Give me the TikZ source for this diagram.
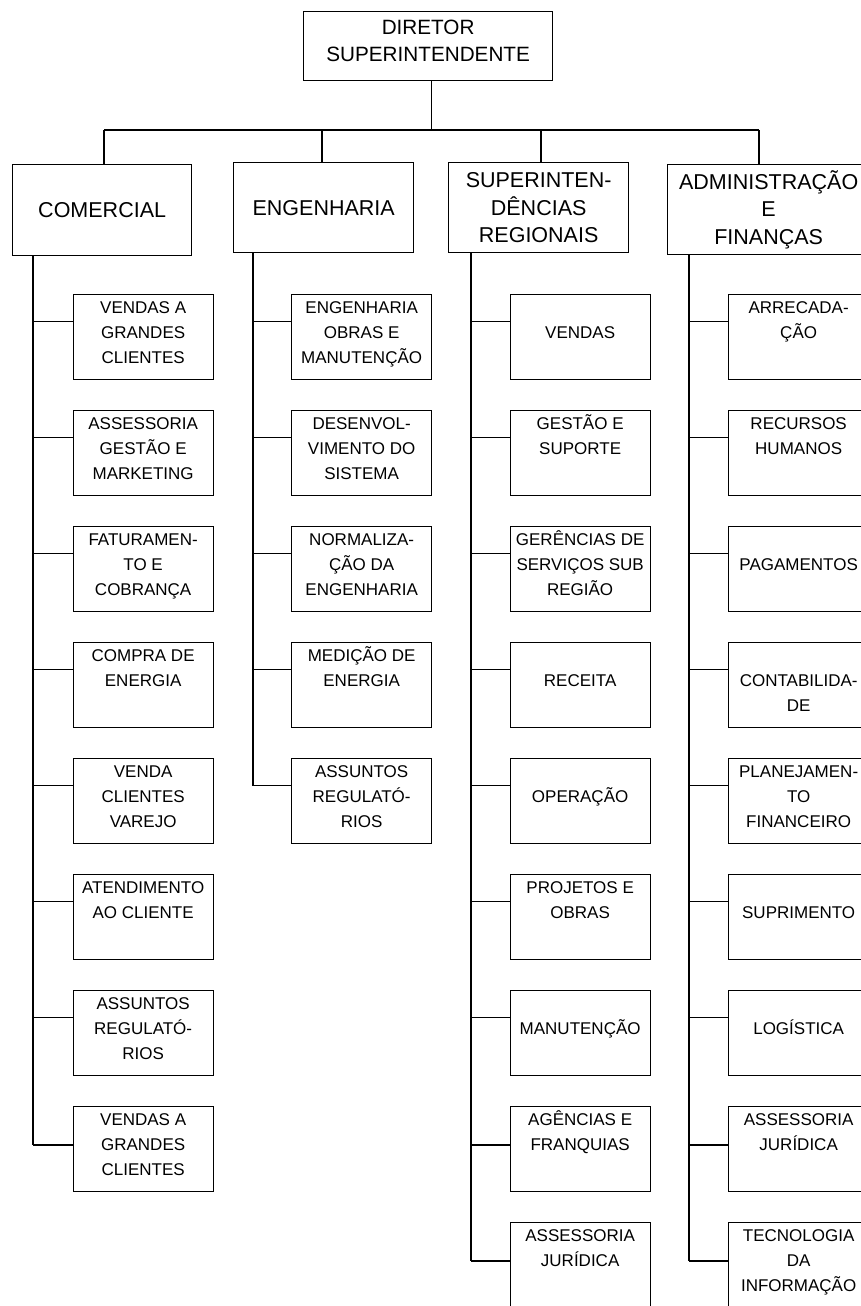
\documentclass[tikz,border=0pt]{standalone}
\usepackage{fontspec}
\setmainfont{Liberation Sans}
% fixed-height strut so every first line starts at the same place
\newcommand\lnstrut{\rule{0pt}{18pt}}
% child box: name, trunk, x, y, text drop, branch drop, text
\newcommand\kidbox[7]{%
  \node[kid] (#1) at (#3,#4) {};
  \node[kidtxt] (#1t) at ([yshift=-#5pt]#1.north) {\lnstrut #7};
  \coordinate (#1p) at ([yshift=-#6pt]#1.north west);
  \draw (#1p) -- (#2 |- #1p);
}
\begin{document}
\begin{tikzpicture}[x=1pt,y=-1pt,line width=1.3pt,
  frame/.style={draw, rectangle, inner sep=0pt, anchor=north west},
  kid/.style={frame, minimum width=140pt, minimum height=85pt},
  kidtxt/.style={anchor=north, inner sep=0pt, align=center,
    font=\fontsize{17}{25}\selectfont},
  head/.style={align=center, inner sep=0pt,
    font=\fontsize{21.5}{27.5}\selectfont},
]
\useasboundingbox (0,0) rectangle (860,1306);

% top of the chart
\node[frame, minimum width=249pt, minimum height=69pt] (dir) at (303,11) {};
\node[align=center, inner sep=0pt, font=\fontsize{20.7}{27}\selectfont]
  (dirt) at ([yshift=5.5pt]dir.center) {DIRETOR\\SUPERINTENDENTE};

% directorates
\node[frame, head, minimum width=179pt, minimum height=91pt] (com) at (12,164) {COMERCIAL};
\node[frame, head, minimum width=180pt, minimum height=90pt] (eng) at (233,162) {ENGENHARIA};
\node[frame, head, minimum width=180pt, minimum height=90pt] (sup) at (448,162) {SUPERINTEN-\\DÊNCIAS\\REGIONAIS};
\node[frame, head, minimum width=202pt, minimum height=90pt] (adm) at (667,164) {ADMINISTRAÇÃO\\E\\FINANÇAS};

% bus between the director and the directorates
\coordinate (d1) at (104,130);
\coordinate (d2) at (322,130);
\coordinate (d3) at (541,130);
\coordinate (d4) at (759,130);
\coordinate (dirdrop) at ([xshift=3.5pt]dir.south);
\draw (dirdrop) -- (dirdrop |- d1);
\draw (d1) -- (d4);
\draw (d1) -- (d1 |- com.north);
\draw (d2) -- (d2 |- eng.north);
\draw (d3) -- (d3 |- sup.north);
\draw (d4) -- (d4 |- adm.north);

% trunks under each directorate
\coordinate (t1) at ([xshift=21pt]com.south west);
\coordinate (t2) at ([xshift=20pt]eng.south west);
\coordinate (t3) at ([xshift=23pt]sup.south west);
\coordinate (t4) at ([xshift=22pt]adm.south west);

% COMERCIAL
\kidbox{com0}{t1}{72.5}{294}{1}{27.5}{VENDAS A\\GRANDES\\CLIENTES}
\kidbox{com1}{t1}{72.5}{410}{1}{27.5}{ASSESSORIA\\GESTÃO E\\MARKETING}
\kidbox{com2}{t1}{72.5}{526}{1}{27.5}{FATURAMEN-\\TO E\\COBRANÇA}
\kidbox{com3}{t1}{72.5}{642}{1}{27.5}{COMPRA DE\\ENERGIA}
\kidbox{com4}{t1}{72.5}{758}{1}{27.5}{VENDA\\CLIENTES\\VAREJO}
\kidbox{com5}{t1}{72.5}{874}{1}{27.5}{ATENDIMENTO\\AO CLIENTE}
\kidbox{com6}{t1}{72.5}{990}{1}{27.5}{ASSUNTOS\\REGULATÓ-\\RIOS}
\kidbox{com7}{t1}{72.5}{1106}{1}{39}{VENDAS A\\GRANDES\\CLIENTES}
\draw (t1) -- (t1 |- com7p);

% ENGENHARIA
\kidbox{eng0}{t2}{291}{294}{1}{27.5}{ENGENHARIA\\OBRAS E\\MANUTENÇÃO}
\kidbox{eng1}{t2}{291}{410}{1}{27.5}{DESENVOL-\\VIMENTO DO\\SISTEMA}
\kidbox{eng2}{t2}{291}{526}{1}{27.5}{NORMALIZA-\\ÇÃO DA\\ENGENHARIA}
\kidbox{eng3}{t2}{291}{642}{1}{27.5}{MEDIÇÃO DE\\ENERGIA}
\kidbox{eng4}{t2}{291}{758}{1}{27.5}{ASSUNTOS\\REGULATÓ-\\RIOS}
\draw (t2) -- (t2 |- eng4p);

% SUPERINTENDÊNCIAS REGIONAIS
\kidbox{sup0}{t3}{509.5}{294}{26}{27.5}{VENDAS}
\kidbox{sup1}{t3}{509.5}{410}{1}{27.5}{GESTÃO E\\SUPORTE}
\kidbox{sup2}{t3}{509.5}{526}{1}{27.5}{GERÊNCIAS DE\\SERVIÇOS SUB\\REGIÃO}
\kidbox{sup3}{t3}{509.5}{642}{26}{27.5}{RECEITA}
\kidbox{sup4}{t3}{509.5}{758}{26}{27.5}{OPERAÇÃO}
\kidbox{sup5}{t3}{509.5}{874}{1}{27.5}{PROJETOS E\\OBRAS}
\kidbox{sup6}{t3}{509.5}{990}{26}{27.5}{MANUTENÇÃO}
\kidbox{sup7}{t3}{509.5}{1106}{1}{39}{AGÊNCIAS E\\FRANQUIAS}
\kidbox{sup8}{t3}{509.5}{1222}{1}{39}{ASSESSORIA\\JURÍDICA}
\draw (t3) -- (t3 |- sup8p);

% ADMINISTRAÇÃO E FINANÇAS
\kidbox{adm0}{t4}{728}{294}{1}{27.5}{ARRECADA-\\ÇÃO}
\kidbox{adm1}{t4}{728}{410}{1}{27.5}{RECURSOS\\HUMANOS}
\kidbox{adm2}{t4}{728}{526}{26}{27.5}{PAGAMENTOS}
\kidbox{adm3}{t4}{728}{642}{26}{27.5}{CONTABILIDA-\\DE}
\kidbox{adm4}{t4}{728}{758}{1}{27.5}{PLANEJAMEN-\\TO\\FINANCEIRO}
\kidbox{adm5}{t4}{728}{874}{26}{27.5}{SUPRIMENTO}
\kidbox{adm6}{t4}{728}{990}{26}{27.5}{LOGÍSTICA}
\kidbox{adm7}{t4}{728}{1106}{1}{39}{ASSESSORIA\\JURÍDICA}
\kidbox{adm8}{t4}{728}{1222}{1}{39}{TECNOLOGIA\\DA\\INFORMAÇÃO}
\draw (t4) -- (t4 |- adm8p);
\end{tikzpicture}
\end{document}
